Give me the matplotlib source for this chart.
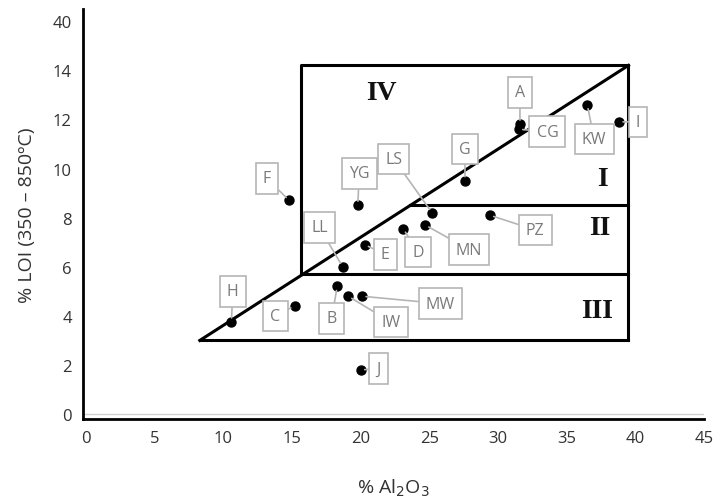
import matplotlib.pyplot as plt

# sample points (Al2O3 %, LOI %)
names = ["H", "C", "B", "IW", "MW", "J", "F", "YG", "LL", "E", "D", "MN", "LS",
         "PZ", "G", "A", "CG", "KW", "I"]
al2o3 = [10.6, 15.2, 18.3, 19.1, 20.1, 20.0, 14.8, 19.8, 18.7, 20.3, 23.1, 24.7, 25.2,
         29.4, 27.6, 31.6, 31.5, 36.5, 38.8]
loi = [3.75, 4.4, 5.2, 4.8, 4.8, 1.8, 8.7, 8.5, 6.0, 6.9, 7.55, 7.7, 8.2,
       8.1, 9.5, 11.8, 11.6, 12.6, 11.9]
# callout box positions
lab_x = [10.7, 13.8, 17.9, 22.2, 25.8, 21.3, 13.2, 19.9, 17.0, 21.8, 24.2, 27.9, 22.4,
         32.7, 27.6, 31.6, 33.6, 37.0, 40.2]
lab_y = [5.0, 4.0, 3.9, 3.75, 4.5, 1.85, 9.6, 9.8, 7.6, 6.5, 6.6, 6.7, 10.4,
         7.5, 10.8, 13.1, 11.5, 11.2, 11.9]

# classification diagram outline
diag_x = [8.3, 39.5]
diag_y = [3.0, 14.2]
box_left = 15.7
box_right = 39.5
levels = [3.0, 5.7, 8.5, 14.2]
zones = ["III", "II", "I", "IV"]
zone_x = [37.2, 37.4, 37.6, 21.5]
zone_y = [4.2, 7.6, 9.6, 13.1]

yticks = [0, 2, 4, 6, 8, 10, 12, 14, 16]
yticklabels = ["0", "2", "4", "6", "8", "10", "12", "14", "40"]

plt.rcParams["font.family"] = ["Open Sans", "DejaVu Sans"]
fig = plt.figure(figsize=(7.18, 5.02), dpi=100)
ax = fig.add_axes([0.1156, 0.1633, 0.865, 0.817])

lw = 2.2
# diagonal
ax.plot(diag_x, diag_y, color="black", lw=lw, zorder=2)
# right side
ax.plot([box_right, box_right], [levels[0], levels[-1]], color="black", lw=lw, zorder=2)
# bottom line
ax.plot([diag_x[0], box_right], [levels[0], levels[0]], color="black", lw=lw, zorder=2)
# box IV
ax.plot([box_left, box_left, box_right], [levels[1], levels[3], levels[3]], color="black", lw=lw, zorder=2)
ax.plot([box_left, box_right], [levels[1], levels[1]], color="black", lw=lw, zorder=2)
# line II/I
slope = (diag_y[1] - diag_y[0]) / (diag_x[1] - diag_x[0])
x_int = diag_x[0] + (levels[2] - diag_y[0]) / slope
ax.plot([x_int, box_right], [levels[2], levels[2]], color="black", lw=lw, zorder=2)

for z, zx, zy in zip(zones, zone_x, zone_y):
    ax.text(zx, zy, z, family="Liberation Serif", fontsize=20, fontweight="bold",
            ha="center", va="center", color="#111111")

ax.scatter(al2o3, loi, s=42, color="black", zorder=4)

for n, x, y, lx, ly in zip(names, al2o3, loi, lab_x, lab_y):
    ax.annotate(n, xy=(x, y), xytext=(lx, ly), ha="center", va="center",
                fontsize=11.5, color="#7a7a7a", zorder=5,
                bbox=dict(boxstyle="square,pad=0.45", fc="white", ec="#b5b5b5", lw=1.2),
                arrowprops=dict(arrowstyle="-", color="#b5b5b5", lw=1.2, shrinkA=0, shrinkB=3))

ax.axhline(0, color="#d0d0d0", lw=1, zorder=1)
ax.set_xlim(-0.2, 45)
ax.set_ylim(-0.2, 16.5)
ax.set_xticks([0, 5, 10, 15, 20, 25, 30, 35, 40, 45])
ax.set_yticks(yticks)
ax.set_yticklabels(yticklabels)
ax.tick_params(length=0, labelsize=12, colors="#333333", pad=8)
for s in ["top", "right"]:
    ax.spines[s].set_visible(False)
for s in ["left", "bottom"]:
    ax.spines[s].set_linewidth(2)
    ax.spines[s].set_color("black")

ax.set_xlabel("% Al$_2$O$_3$", fontsize=14, color="#333333", labelpad=22)
ax.set_ylabel("% LOI (350 \u2013 850\u00baC)", fontsize=14, color="#333333", labelpad=12)

fig.savefig("out.png", dpi=100)
